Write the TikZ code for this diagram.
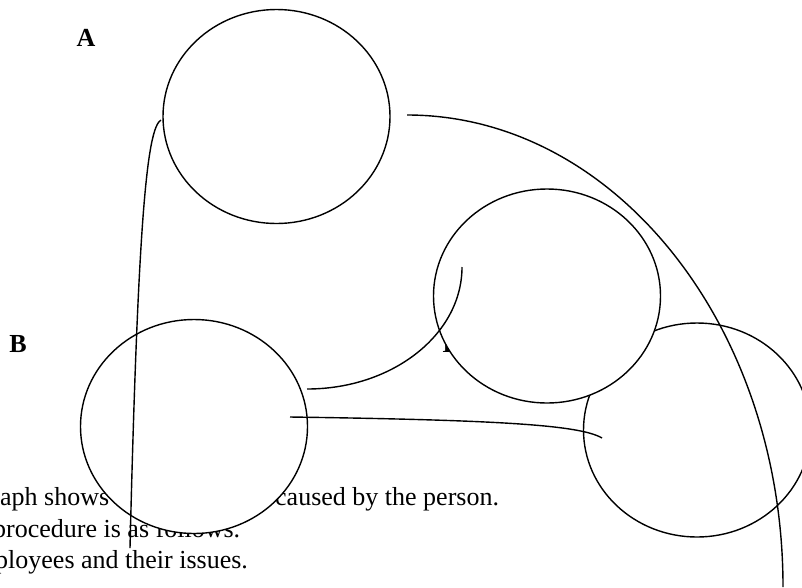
\documentclass[tikz,border=0pt]{standalone}
\usepackage{fontspec}
\setmainfont{Liberation Serif}
\usetikzlibrary{shapes.geometric}

\begin{document}
\begin{tikzpicture}[x=1pt, y=-1pt,
    bubble/.style={draw, ellipse, fill=white, line width=1.4pt,
        minimum width=227pt, minimum height=214pt, inner sep=0pt},
    lbl/.style={font=\fontsize{26}{31}\selectfont\bfseries, inner sep=0pt},
    txt/.style={font=\fontsize{26}{31}\selectfont, anchor=base west, inner sep=0pt},
    link/.style={line width=1.4pt}]
    \useasboundingbox (0,0) rectangle (802,587);
    \clip (0,0) rectangle (802,587);

    % Text lines (partly hidden by the bubbles)
    \node[txt] (t1a) at (0,505)   {aph shows};
    \node[txt] (t1b) at (275,505) {caused by the person.};
    \node[txt] (t2)  at (-7,537)  {procedure is as follows.};
    \node[txt] (t3)  at (-5,568)  {ployees and their issues.};

    % Labels
    \node[lbl] (labA) at (86,38)   {A};
    \node[lbl] (labB) at (18,344)  {B};
    \node[lbl] (labD) at (452,344) {D};

    % Bubbles
    \node[bubble] (nR) at (697,430)     {};
    \node[bubble] (nM) at (547,296)     {};
    \node[bubble] (nA) at (276.5,116.5) {};
    \node[bubble] (nB) at (194,426.5)   {};

    % Free ends of the connectors
    \coordinate (aIn)  at (161,120);
    \coordinate (aEnd) at (130,548);
    \coordinate (aOut) at (407,115);
    \coordinate (bUp)  at (307,389);
    \coordinate (bMid) at (290,417);
    \coordinate (rEnd) at (602,438);

    % Connectors
    \draw[link] (aIn) .. controls (147,128) and (138,220) .. (aEnd);
    \draw[link] (aOut) arc[start angle=270, end angle=360, x radius=376, y radius=472];
    \draw[link] (bUp) arc[start angle=90, end angle=0, x radius=155, y radius=122];
    \draw[link] (bMid) .. controls (500,420) and (580,425) .. (rEnd);
\end{tikzpicture}
\end{document}
